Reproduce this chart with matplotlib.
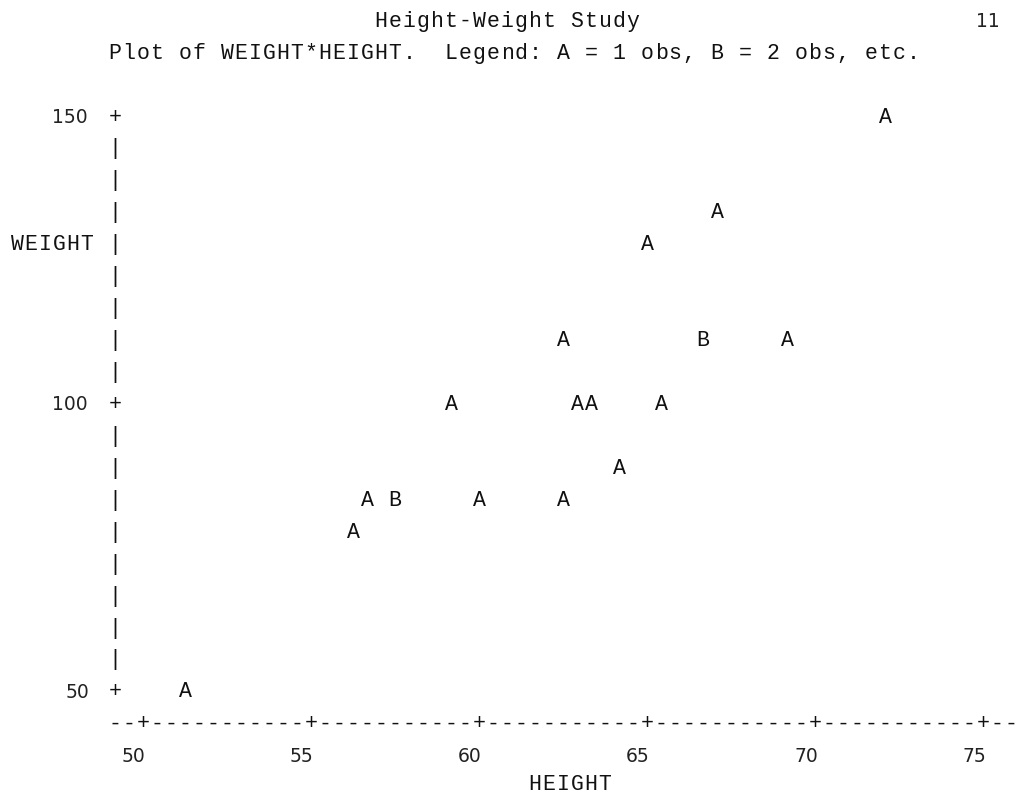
import numpy as np
import matplotlib.pyplot as plt
from matplotlib.transforms import offset_copy
from collections import Counter

heights = [69.0, 56.5, 65.3, 62.8, 63.5, 57.3, 59.8, 62.5, 62.5, 59.0,
           51.3, 64.3, 56.3, 66.5, 72.0, 64.8, 67.0, 57.5, 66.5]
weights = [112.5, 84.0, 98.0, 102.5, 102.5, 83.0, 84.5, 112.5, 84.0, 99.5,
           50.5, 90.0, 77.0, 112.0, 150.0, 128.0, 133.0, 85.0, 112.0]

x_ticks = [50, 55, 60, 65, 70, 75]
y_ticks = [150, 100, 50]

title = 'Height-Weight Study'
page = '11'
subtitle = 'Plot of WEIGHT*HEIGHT.  Legend: A = 1 obs, B = 2 obs, etc.'
x_label = 'HEIGHT'
y_label = 'WEIGHT'

# line-printer grid: 12 columns per x tick, 9 rows per y tick
X0, DX = x_ticks[0], (x_ticks[1] - x_ticks[0]) / 12
Y0, DY = y_ticks[0], (y_ticks[0] - y_ticks[1]) / 9
COL_PX = 14.0
ROW_PX = 31.94

fig = plt.figure(figsize=(10.2, 7.95), dpi=100)
ax = fig.add_axes([0, 0, 1, 1])
ax.set_axis_off()
xs = COL_PX / DX
ys = ROW_PX / DY
ax.set_xlim(X0 - 143 / xs, X0 + (1020 - 143) / xs)
ax.set_ylim(Y0 - (795 - 116) / ys, Y0 + 116 / ys)


def put(row, col, s, dy=-6.5):
    """Place a string one character per grid cell."""
    tr = offset_copy(ax.transData, fig=fig, y=dy, units='dots')
    for i, ch in enumerate(s):
        if ch != ' ':
            ax.text(X0 + (col + i) * DX, Y0 - row * DY, ch, transform=tr,
                    ha='center', va='baseline', family='Liberation Mono',
                    size=15.5, color='#111111')


def num(row, col, s):
    """Numbers are drawn in a proportional face, left aligned on a cell."""
    tr = offset_copy(ax.transData, fig=fig, y=-7, units='dots')
    ax.text(X0 + (col - 0.5) * DX, Y0 - row * DY, s, transform=tr,
            ha='left', va='baseline', family='DejaVu Sans', size=13.5,
            color='#222222')


def to_col(h):
    return int(np.floor((h - X0) / DX + 0.5))


def to_row(w):
    return int(np.floor((Y0 - w) / DY + 0.5))


# header
put(-3, 17, title)
num(-3, 60, page)
put(-2, -2, subtitle)

# vertical axis
last_row = to_row(y_ticks[-1])
tick_rows = [to_row(w) for w in y_ticks]
for r in range(0, last_row + 1):
    put(r, -2, '+' if r in tick_rows else '|')
for w in y_ticks:
    s = str(w)
    num(to_row(w), -3 - len(s), s)
put(4, -9, y_label)

# horizontal axis
tick_cols = [to_col(h) for h in x_ticks]
axis_row = last_row + 1
axis_line = ''.join('+' if c in tick_cols else '-'
                    for c in range(-2, tick_cols[-1] + 3))
put(axis_row, -2, axis_line)
for h, c in zip(x_ticks, tick_cols):
    num(axis_row + 1, c - 1, str(h))
put(axis_row + 2, 28, x_label, dy=-3.5)

# points: count observations per cell, A = 1, B = 2, ...
cells = Counter((to_row(w), to_col(h)) for h, w in zip(heights, weights))
for (r, c), n in cells.items():
    put(r, c, chr(ord('A') + n - 1))

fig.savefig('out.png', dpi=100, facecolor='white')
